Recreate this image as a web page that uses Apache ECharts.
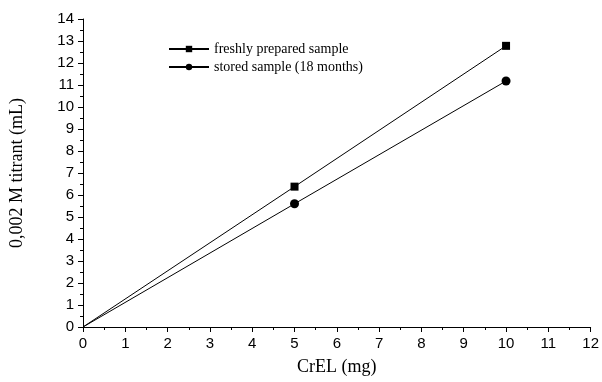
<!DOCTYPE html>
<html>
<head>
<meta charset="utf-8">
<script src="https://cdn.jsdelivr.net/npm/echarts@6/dist/echarts.min.js"></script>
<style>
	html, body { margin: 0; padding: 0; background: #fff; }
	#chart { width: 602px; height: 382px; }
</style>
</head>
<body>
<div id="chart"></div>
<script>
var xValues = [0, 5, 10];
var freshValues = [0, 6.38, 12.78];
var storedValues = [0, 5.6, 11.18];
var seriesNames = ['freshly prepared sample', 'stored sample (18 months)'];

// the origin is drawn as a line end only, no marker
function pairs(ys) {
	var out = [];
	for (var i = 0; i < xValues.length; i++) {
		if (xValues[i] === 0) {
			out.push({ value: [xValues[i], ys[i]], symbol: 'none' });
		} else {
			out.push([xValues[i], ys[i]]);
		}
	}
	return out;
}

var myChart = echarts.init(document.getElementById('chart'));

var axisCommon = {
	axisLine: { show: true, lineStyle: { color: '#000', width: 1 } },
	axisTick: { show: true, inside: false, length: 5, lineStyle: { color: '#000' } },
	minorTick: { show: true, splitNumber: 2, length: 3, lineStyle: { color: '#000' } },
	splitLine: { show: false },
	axisLabel: { color: '#000', fontFamily: 'Liberation Sans, Arial', fontSize: 15, margin: 9 },
	nameTextStyle: { color: '#000', fontFamily: 'Liberation Serif, Times New Roman', fontSize: 18 }
};

var option = {
	animation: false,
	backgroundColor: '#fff',
	grid: { left: 83, right: 9, top: 19, bottom: 55 },
	legend: {
		orient: 'vertical',
		left: 163,
		top: 37,
		itemWidth: 40,
		itemHeight: 8,
		itemGap: 4,
		data: seriesNames,
		textStyle: { color: '#000', fontFamily: 'Liberation Serif, Times New Roman', fontSize: 14 }
	},
	xAxis: Object.assign({}, axisCommon, {
		type: 'value',
		min: 0,
		max: 12,
		interval: 1,
		name: 'CrEL (mg)',
		nameLocation: 'middle',
		nameGap: 31
	}),
	yAxis: Object.assign({}, axisCommon, {
		type: 'value',
		min: 0,
		max: 14,
		interval: 1,
		name: '0,002 M titrant (mL)',
		nameLocation: 'middle',
		nameGap: 57
	}),
	series: [
		{
			name: seriesNames[0],
			type: 'line',
			data: pairs(freshValues),
			symbol: 'rect',
			symbolSize: 8,
			itemStyle: { color: '#000' },
			lineStyle: { color: '#000', width: 1 }
		},
		{
			name: seriesNames[1],
			type: 'line',
			data: pairs(storedValues),
			symbol: 'circle',
			symbolSize: 9,
			itemStyle: { color: '#000' },
			lineStyle: { color: '#000', width: 1 }
		}
	]
};

myChart.setOption(option, true);
</script>
</body>
</html>
